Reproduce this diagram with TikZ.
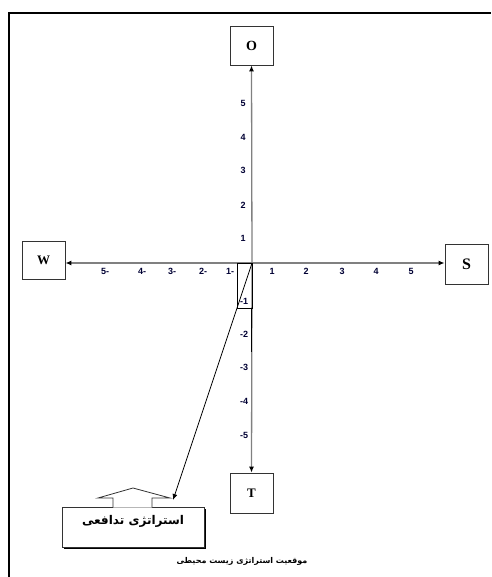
\documentclass[tikz,border=0pt]{standalone}
\usepackage{fontspec}
\setmainfont{Liberation Serif}
\newfontfamily\arabicfont[Script=Arabic]{DejaVu Sans}
\newfontfamily\numfont{Liberation Sans}
\TeXXeTstate=1
\usetikzlibrary{arrows.meta}
\begin{document}
\begin{tikzpicture}[x=1pt,y=-1pt,
  lbox/.style={draw=black!80, line width=0.8pt, fill=white, minimum width=43pt, inner sep=0pt, font=\bfseries\fontsize{13}{13}\selectfont},
  axis/.style={draw=black!50, line width=1.3pt},
  tip/.style={-{Latex[length=6pt,width=5pt,color=black]}},
  tick/.style={font=\numfont\bfseries\fontsize{9}{9}\selectfont, text=black!80!blue, inner sep=0pt}]
\useasboundingbox (0,0) rectangle (491,577);
\draw[line width=2pt] (9,577) -- (9,13) -- (491,13);
\coordinate (c) at (252,263);
\node[lbox, minimum height=39pt, font=\bfseries\fontsize{14}{14}\selectfont] (O) at (251.5,45.5) {O};
\node[lbox, minimum height=38pt] (W) at (43.5,260) {W};
\node[lbox, minimum height=40pt, font=\bfseries\fontsize{16}{16}\selectfont] (S) at (466.5,264) {S};
\node[lbox, minimum height=40pt] (T) at (251.5,493) {T};
\draw[axis,tip] (c) -- (O.south);
\draw[axis,tip] (c) -- (T.north);
\draw[axis,tip] (c) -- (c -| W.east);
\draw[axis,tip] (c) -- (c -| S.west);
% tick labels
\foreach \n/\x in {1/272,2/306,3/342,4/376,5/411} \node[tick] (px\n) at (\x,271) {\n};
\foreach \n/\x in {1/230,2/203,3/172,4/142,5/105} \node[tick] (nx\n) at (\x,271) {\n-};
\foreach \n/\y in {1/238,2/205,3/170,4/137,5/103} \node[tick] (py\n) at (243,\y) {\n};
\foreach \n/\y in {1/301,2/334,3/367,4/401,5/435} \node[tick] (ny\n) at (244,\y) {-\n};
% small rectangle
\draw[line width=0.7pt] (237,263) rectangle (252,308);
\draw[line width=0.9pt] (251,308) -- (251,352);
% callout
\fill[black] (63.5,508.5) rectangle (205.5,548.5);
\node[draw=black!80, line width=0.8pt, fill=white, minimum width=142pt, minimum height=40pt, inner sep=0pt] (cb) at (133,527) {};
\draw[line width=0.8pt, draw=black!80, fill=white] (113,507.5) -- (113,498) -- (98,498) -- (133,488) -- (170,498) -- (152,498) -- (152,507.5);
\node[inner sep=0pt, font=\arabicfont\bfseries\fontsize{12}{12}\selectfont] (cbt) at (133,521) {\beginR استراتژی تدافعی\endR};
\coordinate (arr) at (173,500);
\draw[line width=0.8pt, tip] (c) -- (arr);
\node[inner sep=0pt, font=\arabicfont\bfseries\fontsize{8}{8}\selectfont] (cap) at (242,561) {\beginR موقعیت استراتژی زیست محیطی\endR};
\end{tikzpicture}
\end{document}
